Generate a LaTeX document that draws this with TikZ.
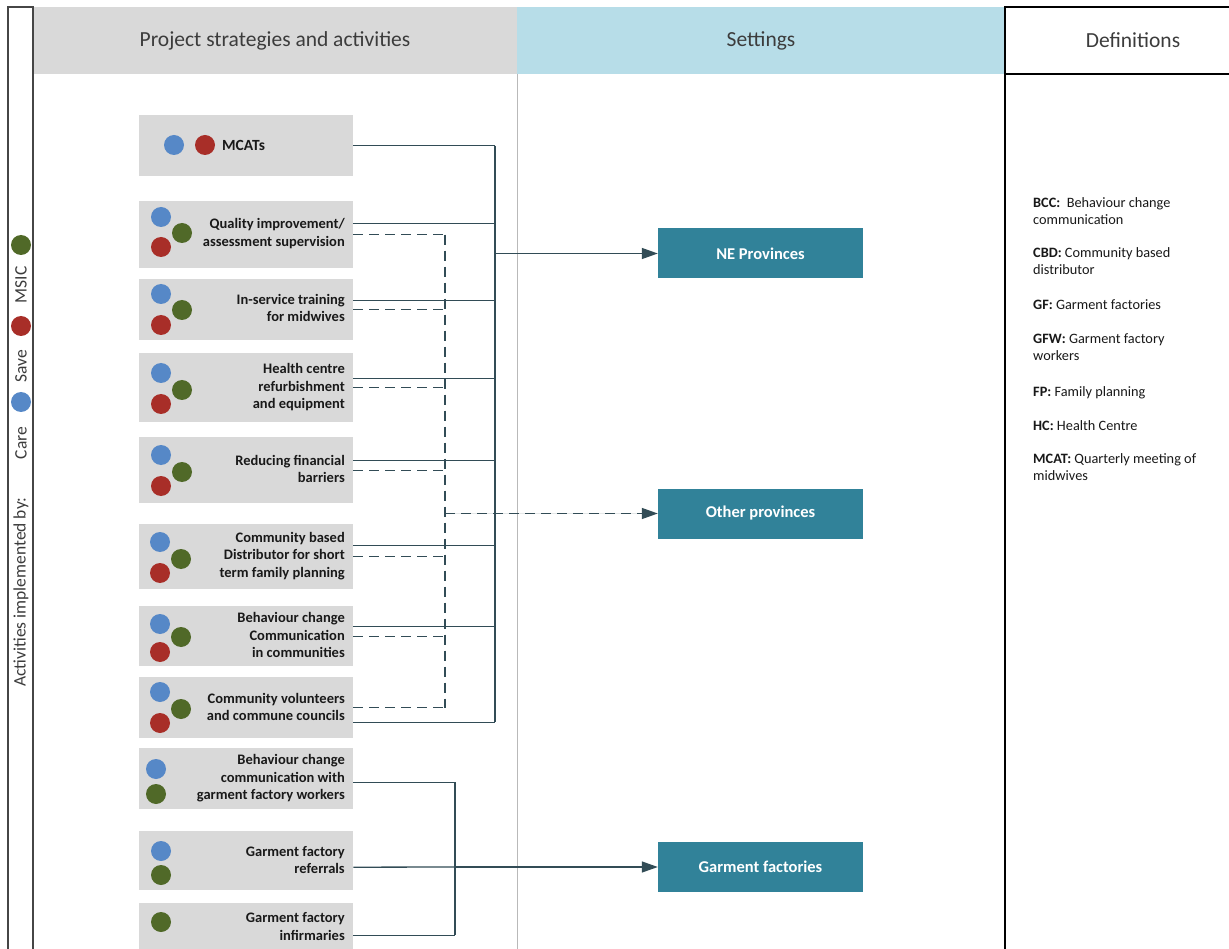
\documentclass[tikz,border=0pt]{standalone}
\usepackage{fontspec}
\setmainfont{Carlito}
\usetikzlibrary{arrows.meta}
\definecolor{hdrgray}{RGB}{217,217,217}
\definecolor{hdrblue}{RGB}{183,221,232}
\definecolor{boxgray}{RGB}{217,217,217}
\definecolor{setteal}{RGB}{49,130,153}
\definecolor{linec}{RGB}{50,76,86}
\definecolor{cblue}{RGB}{86,136,199}
\definecolor{cred}{RGB}{168,46,40}
\definecolor{cgreen}{RGB}{80,105,40}
\definecolor{txtc}{RGB}{25,25,25}
\definecolor{hdrtxt}{RGB}{60,60,60}
\definecolor{stripc}{RGB}{70,70,70}
\begin{document}
\begin{tikzpicture}[x=1pt,y=-1pt,
  hdr/.style={inner sep=0, minimum height=67pt, text=hdrtxt, font=\fontsize{21.5}{25}\selectfont},
  actbox/.style={fill=boxgray, draw=none, minimum width=214pt, anchor=north west, inner sep=0},
  acttext/.style={font=\fontsize{14.5}{17.5}\selectfont\bfseries, align=right, anchor=east, text=txtc, inner sep=0},
  dot/.style={circle, minimum size=20pt, inner sep=0},
  cb/.style={dot, fill=cblue},
  cr/.style={dot, fill=cred},
  cg/.style={dot, fill=cgreen},
  setbox/.style={fill=setteal, minimum width=205pt, minimum height=50pt, text=white, font=\fontsize{16.5}{19}\selectfont\bfseries, inner sep=0},
  conn/.style={draw=linec, line width=1.3pt},
  dconn/.style={conn, dash pattern=on 10pt off 6pt},
  arr/.style={-{Triangle[length=16pt,width=11pt]}, fill=linec},
  deftext/.style={font=\fontsize{14.3}{17}\selectfont, align=left, anchor=north west, inner sep=0, text=txtc},
  striptext/.style={rotate=90, font=\fontsize{17.5}{20}\selectfont, text=hdrtxt, inner sep=0}
]
\useasboundingbox (0,0) rectangle (1229,949);
\fill[white] (0,0) rectangle (1229,949);
% headers
\node[hdr, fill=hdrgray, minimum width=484pt] (hpsa) at (275,40.5) {Project strategies and activities};
\node[hdr, fill=hdrblue, minimum width=488pt] (hset) at (761,40.5) {Settings};
\node[hdr, minimum width=224pt] (hdef) at (1117,40.5) {};
\node[text=hdrtxt, font=\fontsize{21.5}{25}\selectfont, inner sep=0] (hdeft) at (1133,40.5) {Definitions};
\draw[black, line width=1.2pt] (1229,7) -- (1005,7) -- (1005,949);
\draw[black, line width=1.2pt] (1005,74) -- (1229,74);
\draw[gray!55, line width=0.8pt] (517,74) -- (517,949);
% left strip
\draw[stripc, line width=1.6pt] (8,949) -- (8,7) -- (33,7) -- (33,949);
\node[striptext] (lact) at (21,592) {Activities implemented by:};
\node[striptext] (lcare) at (21,443) {Care};
\node[cb] (lcb) at (21,402) {};
\node[striptext] (lsave) at (21,366) {Save};
\node[cr] (lcr) at (21,326) {};
\node[striptext] (lmsic) at (21,285) {MSIC};
\node[cg] (lcg) at (21,245) {};
% activity boxes
\node[actbox, minimum height=61pt] (b1) at (139,115) {};
\node[actbox, minimum height=67pt] (b2) at (139,201) {};
\node[actbox, minimum height=61pt] (b3) at (139,279) {};
\node[actbox, minimum height=69pt] (b4) at (139,353) {};
\node[actbox, minimum height=66pt] (b5) at (139,437) {};
\node[actbox, minimum height=65pt] (b6) at (139,524) {};
\node[actbox, minimum height=60pt] (b7) at (139,606) {};
\node[actbox, minimum height=61pt] (b8) at (139,677) {};
\node[actbox, minimum height=61pt] (b9) at (139,748) {};
\node[actbox, minimum height=59pt] (b10) at (139,831) {};
\node[actbox, minimum height=60pt] (b11) at (139,903) {};
% texts
\node[acttext, anchor=west, font=\fontsize{15.5}{17.5}\selectfont\bfseries] (t1) at (222,145) {MCATs};
\node[acttext] (t2) at (345,233.5) {Quality improvement/\\assessment supervision};
\node[acttext] (t3) at (345,308) {In-service training\\for midwives};
\node[acttext] (t4) at (345,387.5) {Health centre\\refurbishment\\and equipment};
\node[acttext] (t5) at (345,469) {Reducing financial\\barriers};
\node[acttext] (t6) at (345,556) {Community based\\Distributor for short\\term family planning};
\node[acttext] (t7) at (345,635) {Behaviour change\\Communication\\in communities};
\node[acttext] (t8) at (345,707) {Community volunteers\\and commune councils};
\node[acttext] (t9) at (345,778.5) {Behaviour change\\communication with\\garment factory workers};
\node[acttext] (t10) at (345,860) {Garment factory\\referrals};
\node[acttext] (t11) at (345,926.5) {Garment factory\\infirmaries};
% circles
\node[cb] (c1b) at (174,145) {};
\node[cr] (c1r) at (205,145) {};
\node[cb] (c2b) at (161,217) {};
\node[cg] (c2g) at (182,233) {};
\node[cr] (c2r) at (161,247) {};
\node[cb] (c3b) at (161,294) {};
\node[cg] (c3g) at (182,310) {};
\node[cr] (c3r) at (161,325) {};
\node[cb] (c4b) at (161,373) {};
\node[cg] (c4g) at (182,390) {};
\node[cr] (c4r) at (161,404) {};
\node[cb] (c5b) at (161,455) {};
\node[cg] (c5g) at (182,472) {};
\node[cr] (c5r) at (161,486) {};
\node[cb] (c6b) at (160,542) {};
\node[cg] (c6g) at (181,559) {};
\node[cr] (c6r) at (160,573) {};
\node[cb] (c7b) at (160,624) {};
\node[cg] (c7g) at (181,637) {};
\node[cr] (c7r) at (160,652) {};
\node[cb] (c8b) at (160,692) {};
\node[cg] (c8g) at (181,709) {};
\node[cr] (c8r) at (160,723) {};
\node[cb] (c9b) at (156,769) {};
\node[cg] (c9g) at (156,794) {};
\node[cb] (c10b) at (161,851) {};
\node[cg] (c10g) at (161,875) {};
\node[cg] (c11g) at (161,922) {};
% settings
\node[setbox] (ne) at (760.5,253.5) {NE Provinces};
\node[setbox] (op) at (760.5,513.5) {Other provinces};
\node[setbox] (gf) at (760.5,867) {Garment factories};
% bus coordinates
\coordinate (busA) at (495,253.5);
\coordinate (busD) at (445,513.5);
\coordinate (busG) at (455,867);
% dashed connectors
\draw[dconn] (b2.east) -- (b2.east -| busD);
\draw[dconn] (b3.east) -- (b3.east -| busD);
\draw[dconn] (b4.east) -- (b4.east -| busD);
\draw[dconn] (b5.east) -- (b5.east -| busD);
\draw[dconn] (b6.east) -- (b6.east -| busD);
\draw[dconn] (b7.east) -- (b7.east -| busD);
\draw[dconn] (b8.east) -- (b8.east -| busD);
\draw[dconn] (b2.east -| busD) -- (b8.east -| busD);
\draw[dconn, arr] (busD) -- (op.west);
% solid connectors
\draw[conn] (b1.east) -- (b1.east -| busA);
\draw[conn] ([yshift=11.5pt]b2.east) -- ([yshift=11.5pt]b2.east -| busA);
\draw[conn] ([yshift=9.5pt]b3.east) -- ([yshift=9.5pt]b3.east -| busA);
\draw[conn] ([yshift=9.5pt]b4.east) -- ([yshift=9.5pt]b4.east -| busA);
\draw[conn] ([yshift=10pt]b5.east) -- ([yshift=10pt]b5.east -| busA);
\draw[conn] ([yshift=11.5pt]b6.east) -- ([yshift=11.5pt]b6.east -| busA);
\draw[conn] ([yshift=10pt]b7.east) -- ([yshift=10pt]b7.east -| busA);
\draw[conn] ([yshift=-14.5pt]b8.east) -- ([yshift=-14.5pt]b8.east -| busA);
\draw[conn] (b1.east -| busA) -- ([yshift=-14.5pt]b8.east -| busA);
\draw[conn, arr] (busA) -- (ne.west);
% garment connectors
\draw[conn] ([yshift=-3.5pt]b9.east) -- ([yshift=-3.5pt]b9.east -| busG);
\draw[conn] ([yshift=-6.5pt]b10.east) -- (busG);
\draw[conn] ([yshift=-2pt]b11.east) -- ([yshift=-2pt]b11.east -| busG);
\draw[conn] ([yshift=-3.5pt]b9.east -| busG) -- ([yshift=-2pt]b11.east -| busG);
\draw[conn, arr] (busG) -- (gf.west);
% definitions
\node[deftext] (d1) at (1033,197) {\textbf{BCC:}\ \ Behaviour change\\communication};
\node[deftext] (d2) at (1033,247) {\textbf{CBD:} Community based\\distributor};
\node[deftext] (d3) at (1033,299) {\textbf{GF:} Garment factories};
\node[deftext] (d4) at (1033,333) {\textbf{GFW:} Garment factory\\workers};
\node[deftext] (d5) at (1033,386) {\textbf{FP:} Family planning};
\node[deftext] (d6) at (1033,420) {\textbf{HC:} Health Centre};
\node[deftext] (d7) at (1033,453) {\textbf{MCAT:} Quarterly meeting of\\midwives};
\end{tikzpicture}
\end{document}
